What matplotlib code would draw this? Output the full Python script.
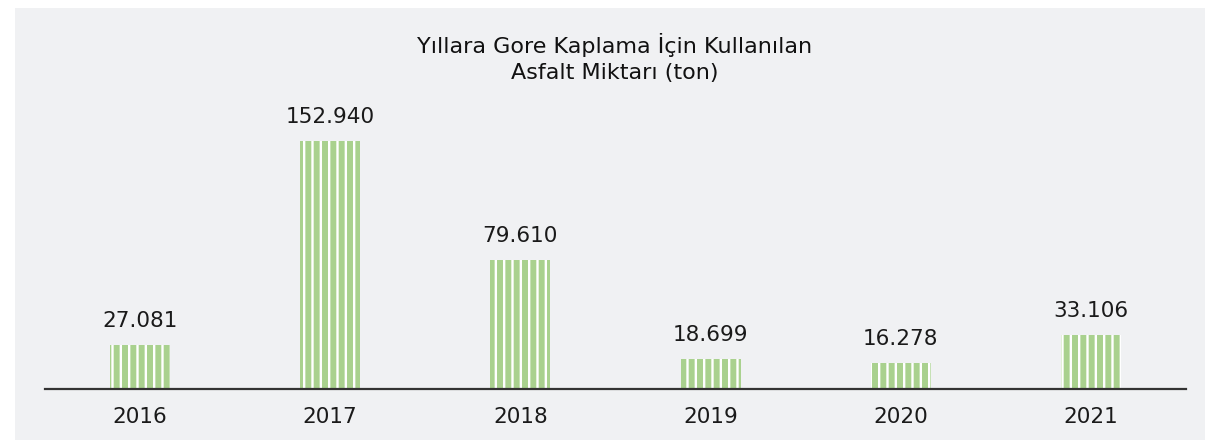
import numpy as np
import matplotlib
matplotlib.use("Agg")
import matplotlib.pyplot as plt
from matplotlib.patches import Rectangle

years = ["2016", "2017", "2018", "2019", "2020", "2021"]
asphalt_tons = [27081, 152940, 79610, 18699, 16278, 33106]
value_labels = ["27.081", "152.940", "79.610", "18.699", "16.278", "33.106"]

title = "Yıllara Gore Kaplama İçin Kullanılan\nAsfalt Miktarı (ton)"

W, H = 1205, 440
fig = plt.figure(figsize=(W / 100, H / 100), dpi=100)
fig.patch.set_facecolor("white")
# grey panel behind the chart
fig.patches.append(Rectangle((15 / W, 0), 1 - 15 / W, 1 - 8 / H,
                             transform=fig.transFigure, facecolor="#f0f1f3",
                             edgecolor="none", zorder=-10))

plt.rcParams["hatch.linewidth"] = 1.7
plt.rcParams["hatch.color"] = "white"

ax = fig.add_axes([45 / W, (H - 389) / H, (1186 - 45) / W, 289 / H])
ax.set_facecolor("none")

x = np.arange(len(years))
bars = ax.bar(x, asphalt_tons, width=60 / 190.2, color="#a9d18e",
              edgecolor="white", linewidth=0, hatch="||", zorder=2)

for xi, v, lab in zip(x, asphalt_tons, value_labels):
    ax.annotate(lab, (xi, v), xytext=(0, 10), textcoords="offset points",
                ha="center", va="bottom", fontsize=15.5, color="#1a1a1a")

ax.set_xlim(-0.5, len(years) - 0.5)
ax.set_ylim(0, 152940 * 289 / 248)
ax.set_xticks(x)
ax.set_xticklabels(years, fontsize=15.5, color="#1a1a1a")
ax.tick_params(axis="x", length=0, pad=13)
ax.set_yticks([])
for s in ["top", "right", "left"]:
    ax.spines[s].set_visible(False)
ax.spines["bottom"].set_color("#333333")
ax.spines["bottom"].set_linewidth(1.6)

fig.text(615 / W, 1 - 58 / H, title, ha="center", va="center",
         fontsize=16, color="#111111", linespacing=1.4)

fig.savefig("out.png", dpi=100, facecolor=fig.get_facecolor())
